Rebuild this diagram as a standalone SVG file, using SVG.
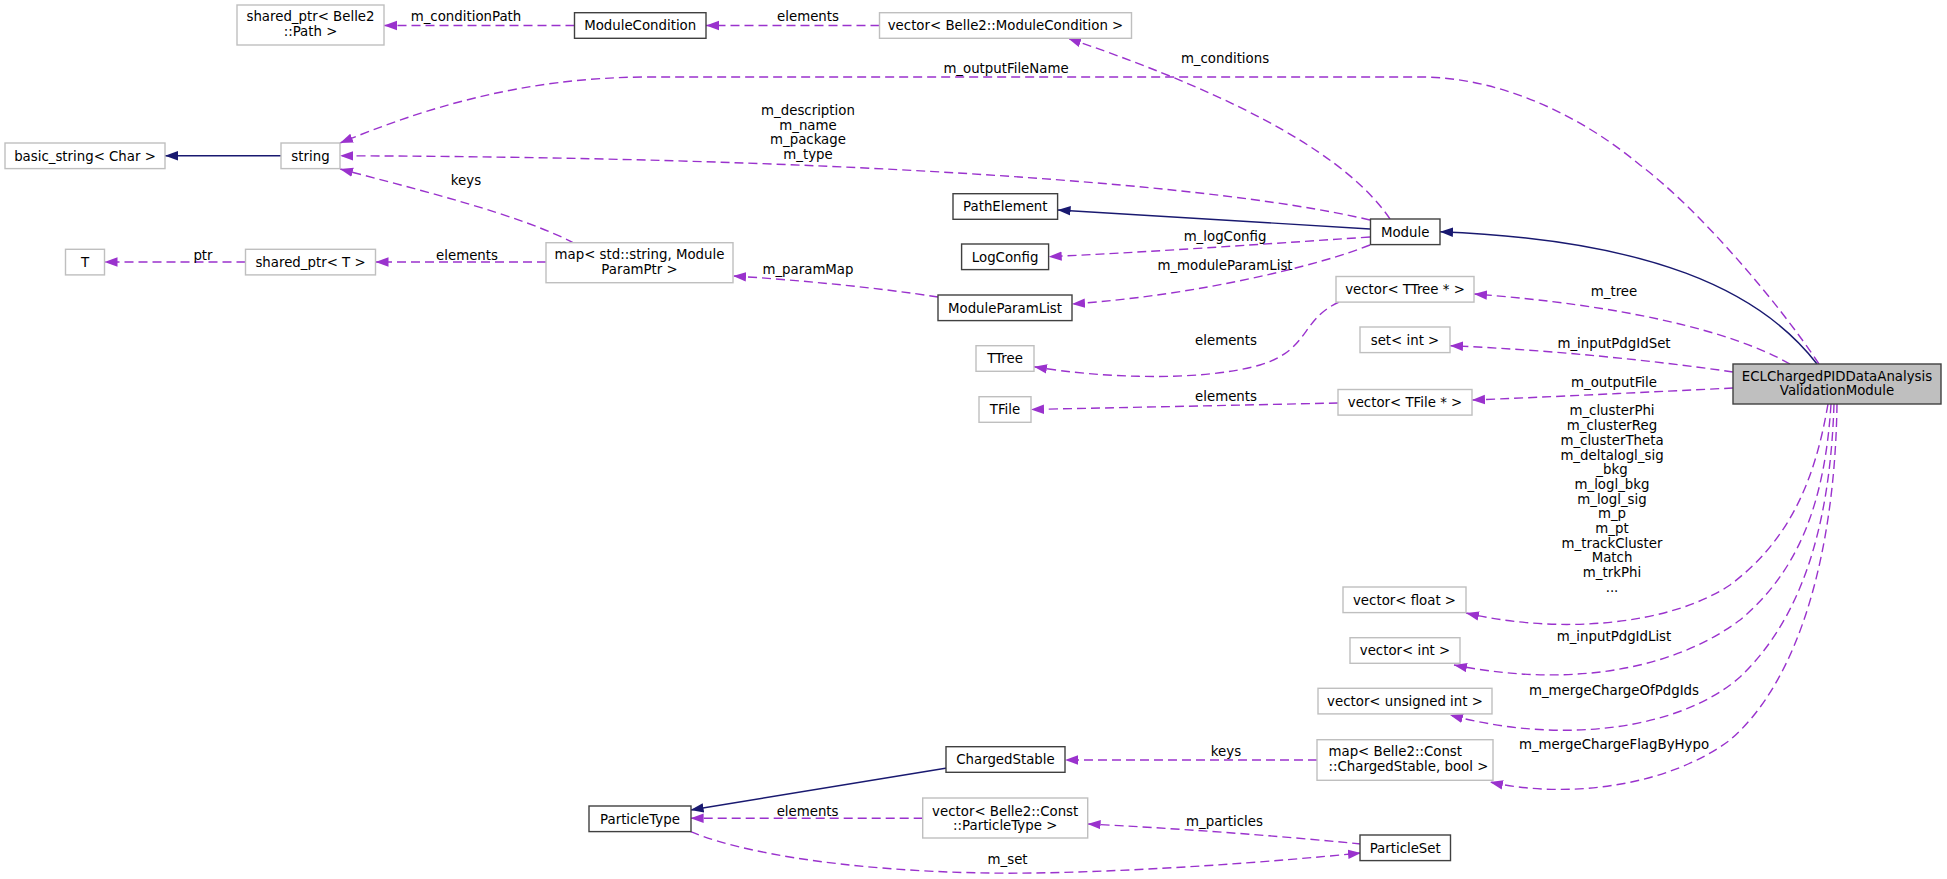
<svg xmlns="http://www.w3.org/2000/svg" width="1947" height="879" viewBox="0 0 1947 879">
<style>
text{font-family:"DejaVu Sans","Liberation Sans",sans-serif;font-size:13.33px;text-anchor:middle;fill:#000}
.n rect{fill:#fff;stroke:#404040;stroke-width:1.4}
.x rect{fill:#fff;stroke:#bfbfbf;stroke-width:1.4}
.m rect{fill:#bfbfbf;stroke:#404040;stroke-width:1.4}
.u{fill:none;stroke:#9a32cd;stroke-width:1.4;stroke-dasharray:9,5;marker-end:url(#ap)}
.i{fill:none;stroke:#191970;stroke-width:1.4;marker-end:url(#an)}
.l text{font-size:13.33px}
</style>
<defs>
<marker id="ap" markerUnits="userSpaceOnUse" markerWidth="15" markerHeight="11" refX="13" refY="5" orient="auto"><path d="M0,0.3 L13,5 L0,9.7 z" fill="#9a32cd" stroke="none"/></marker>
<marker id="an" markerUnits="userSpaceOnUse" markerWidth="15" markerHeight="11" refX="13" refY="5" orient="auto"><path d="M0,0.3 L13,5 L0,9.7 z" fill="#191970" stroke="none"/></marker>
</defs>
<rect width="1947" height="879" fill="#fff"/>
<g id="connectors">
<path class="u" d="M574.5,25.5 L384,25.5"/>
<path class="u" d="M879.5,25.5 L706,25.5"/>
<path class="u" d="M1390,219 C1350,160 1250,100 1068,38.3"/>
<path class="u" d="M1819,364 C1780,305 1700,210 1640,165 C1580,115 1500,77 1420,77 L650,77 C520,77 420,110 340,143"/>
<path class="u" d="M1370,220 C1200,180 800,157 340,155.8"/>
<path class="i" d="M1370,229 L1057.6,210"/>
<path class="u" d="M1370,237 C1250,245 1150,252 1048.7,256.7"/>
<path class="u" d="M1370,245 C1320,265 1200,295 1072,304"/>
<path class="u" d="M938,297 C880,288 800,280 733,276"/>
<path class="u" d="M574,243 C520,215 420,190 340,169"/>
<path class="u" d="M546,262 L375.5,262"/>
<path class="u" d="M245.5,262 L104.5,262"/>
<path class="i" d="M281,155.8 L165,155.8"/>
<path class="i" d="M1817,364 C1760,290 1650,240 1440,231.7"/>
<path class="u" d="M1790,364 C1730,330 1620,305 1474,294"/>
<path class="u" d="M1733,372 C1650,360 1550,350 1450,345.7"/>
<path class="u" d="M1733,388 C1650,392 1550,397 1472,400"/>
<path class="u" d="M1339,302 C1300,320 1310,350 1260,365 C1200,382 1100,378 1034,366.7"/>
<path class="u" d="M1338,403 C1200,406 1100,408 1031,409.5"/>
<path class="u" d="M1828,404 C1815,480 1790,540 1730,585 C1670,625 1560,635 1466,613"/>
<path class="u" d="M1831,404 C1825,500 1800,570 1740,620 C1680,665 1580,690 1454,665"/>
<path class="u" d="M1834,404 C1830,530 1800,620 1740,677 C1680,730 1560,745 1450,715"/>
<path class="u" d="M1837,404 C1835,550 1800,680 1730,740 C1670,785 1570,800 1490,782"/>
<path class="u" d="M1317,760 L1065,760"/>
<path class="i" d="M947,768 L690.6,810"/>
<path class="u" d="M922.7,818.3 L690.6,818.3"/>
<path class="u" d="M1361,844 C1270,835 1170,828 1087.6,824"/>
<path class="u" d="M690.6,831.7 C760,860 900,875 1035,873 C1150,871 1270,862 1361,853"/>
<g class="l">
<text x="466" y="21.4">m_conditionPath</text>
<text x="808" y="21.4">elements</text>
<text x="1225" y="62.7">m_conditions</text>
<text x="1006" y="72.7">m_outputFileName</text>
<text x="808" y="115.4">m_description</text>
<text x="808" y="129.7">m_name</text>
<text x="808" y="144.4">m_package</text>
<text x="808" y="159">m_type</text>
<text x="466" y="184.7">keys</text>
<text x="1225" y="241.4">m_logConfig</text>
<text x="1225" y="269.7">m_moduleParamList</text>
<text x="808" y="273.7">m_paramMap</text>
<text x="203" y="259.7">ptr</text>
<text x="467" y="259.7">elements</text>
<text x="1614" y="296.4">m_tree</text>
<text x="1226" y="345.4">elements</text>
<text x="1614" y="347.7">m_inputPdgIdSet</text>
<text x="1614" y="387.4">m_outputFile</text>
<text x="1226" y="401.4">elements</text>
<text x="1612" y="415.4">m_clusterPhi</text>
<text x="1612" y="430.1">m_clusterReg</text>
<text x="1612" y="444.8">m_clusterTheta</text>
<text x="1612" y="459.5">m_deltalogl_sig</text>
<text x="1612" y="474.2">_bkg</text>
<text x="1612" y="488.9">m_logl_bkg</text>
<text x="1612" y="503.6">m_logl_sig</text>
<text x="1612" y="518.3">m_p</text>
<text x="1612" y="533">m_pt</text>
<text x="1612" y="547.7">m_trackCluster</text>
<text x="1612" y="562.4">Match</text>
<text x="1612" y="577.1">m_trkPhi</text>
<text x="1612" y="591.8">...</text>
<text x="1614" y="641.4">m_inputPdgIdList</text>
<text x="1614" y="695.4">m_mergeChargeOfPdgIds</text>
<text x="1614" y="748.7">m_mergeChargeFlagByHypo</text>
<text x="1226" y="756.4">keys</text>
<text x="807.6" y="815.7">elements</text>
<text x="1224.5" y="825.7">m_particles</text>
<text x="1007.6" y="863.7">m_set</text>
</g>
</g>
<g id="node_sp_path" class="x"><rect x="237" y="5" width="147" height="40"/><text x="310.5" y="21.4">shared_ptr&lt; Belle2</text><text x="310.5" y="36.4">::Path &gt;</text></g>
<g id="node_modulecondition" class="n"><rect x="574.5" y="12.7" width="131.5" height="25.6"/><text x="640.2" y="30.2">ModuleCondition</text></g>
<g id="node_vec_mc" class="x"><rect x="879.5" y="12.7" width="252" height="25.6"/><text x="1005.5" y="30.2">vector&lt; Belle2::ModuleCondition &gt;</text></g>
<g id="node_basic_string" class="x"><rect x="5" y="143" width="160" height="25.6"/><text x="85" y="160.5">basic_string&lt; Char &gt;</text></g>
<g id="node_string" class="x"><rect x="281" y="143" width="59" height="25.6"/><text x="310.5" y="160.5">string</text></g>
<g id="node_pathelement" class="n"><rect x="953" y="193.7" width="104.6" height="25.6"/><text x="1005.3" y="211.2">PathElement</text></g>
<g id="node_module" class="n"><rect x="1370.5" y="219" width="69.5" height="25.6"/><text x="1405.2" y="236.5">Module</text></g>
<g id="node_logconfig" class="n"><rect x="961.6" y="244" width="87" height="25.6"/><text x="1005.1" y="261.5">LogConfig</text></g>
<g id="node_t" class="x"><rect x="65.5" y="249.3" width="39" height="25.6"/><text x="85" y="266.8">T</text></g>
<g id="node_sp_t" class="x"><rect x="245.5" y="249.3" width="130" height="25.6"/><text x="310.5" y="266.8">shared_ptr&lt; T &gt;</text></g>
<g id="node_map_param" class="x"><rect x="546" y="242.7" width="187" height="40"/><text x="639.5" y="259">map&lt; std::string, Module</text><text x="639.5" y="273.6">ParamPtr &gt;</text></g>
<g id="node_moduleparamlist" class="n"><rect x="938" y="295" width="134" height="25.6"/><text x="1005" y="312.5">ModuleParamList</text></g>
<g id="node_vec_ttree" class="x"><rect x="1336" y="276.5" width="138" height="25.6"/><text x="1405" y="294">vector&lt; TTree * &gt;</text></g>
<g id="node_set_int" class="x"><rect x="1360" y="327" width="90" height="25.6"/><text x="1405" y="344.5">set&lt; int &gt;</text></g>
<g id="node_ttree" class="x"><rect x="976" y="345.7" width="58" height="25.6"/><text x="1005" y="363.2">TTree</text></g>
<g id="node_tfile" class="x"><rect x="979" y="396.7" width="52" height="25.6"/><text x="1005" y="414.2">TFile</text></g>
<g id="node_vec_tfile" class="x"><rect x="1338" y="389.5" width="134" height="25.6"/><text x="1405" y="407">vector&lt; TFile * &gt;</text></g>
<g id="node_ecl" class="m"><rect x="1733" y="364" width="208" height="40"/><text x="1837" y="380.6">ECLChargedPIDDataAnalysis</text><text x="1837" y="395">ValidationModule</text></g>
<g id="node_vec_float" class="x"><rect x="1343" y="587" width="123" height="25.6"/><text x="1404.5" y="604.5">vector&lt; float &gt;</text></g>
<g id="node_vec_int" class="x"><rect x="1350" y="637.7" width="110" height="25.6"/><text x="1405" y="655.2">vector&lt; int &gt;</text></g>
<g id="node_vec_uint" class="x"><rect x="1318" y="688.3" width="174" height="25.6"/><text x="1405" y="705.8">vector&lt; unsigned int &gt;</text></g>
<g id="node_map_cs" class="x"><rect x="1317" y="739.7" width="176" height="40.6"/><text x="1328.5" y="756.4" style="text-anchor:start">map&lt; Belle2::Const</text><text x="1328.5" y="770.7" style="text-anchor:start">::ChargedStable, bool &gt;</text></g>
<g id="node_chargedstable" class="n"><rect x="946" y="746.7" width="119" height="25.6"/><text x="1005.5" y="764.2">ChargedStable</text></g>
<g id="node_particletype" class="n"><rect x="589" y="806" width="102" height="25.6"/><text x="640" y="823.5">ParticleType</text></g>
<g id="node_vec_pt" class="x"><rect x="922.7" y="798" width="165" height="40"/><text x="1005.2" y="815.7">vector&lt; Belle2::Const</text><text x="1005.2" y="829.7">::ParticleType &gt;</text></g>
<g id="node_particleset" class="n"><rect x="1360" y="835" width="90.5" height="25.6"/><text x="1405.2" y="852.5">ParticleSet</text></g>
</svg>
